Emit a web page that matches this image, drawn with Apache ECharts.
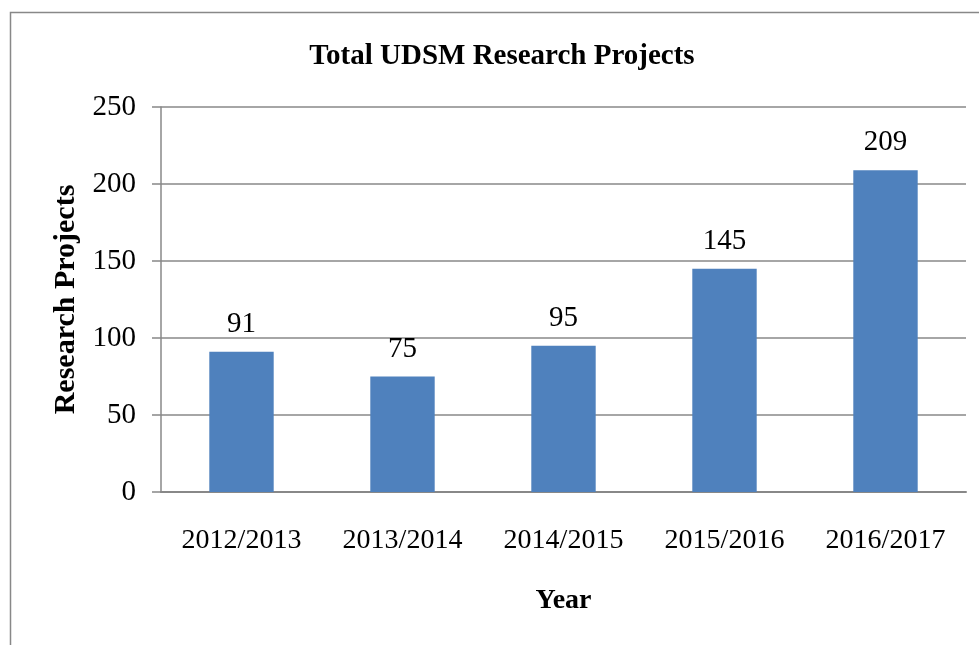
<!DOCTYPE html>
<html>
<head>
<meta charset="utf-8">
<title>Total UDSM Research Projects</title>
<script src="https://cdn.jsdelivr.net/npm/echarts@6/dist/echarts.min.js"></script>
<style>
  html, body { margin: 0; padding: 0; background: #fff; }
  #chart { width: 979px; height: 645px; }
</style>
</head>
<body>
<div id="chart"></div>
<script>
// data
const years = ['2012/2013', '2013/2014', '2014/2015', '2015/2016', '2016/2017']
const projects = [91, 75, 95, 145, 209]

const serif = '"Liberation Serif", "Times New Roman", serif'
const gray = '#888888'

const chart = echarts.init(document.getElementById('chart'))
chart.setOption({
  animation: false,
  title: {
    text: 'Total UDSM Research Projects',
    left: 497,
    top: 37,
    textAlign: 'center',
    textStyle: { fontFamily: serif, fontWeight: 'bold', fontSize: 29, color: '#000' }
  },
  graphic: [{
    type: 'rect',
    shape: { x: 10.5, y: 12.5, width: 1000, height: 700 },
    style: { fill: 'none', stroke: gray, lineWidth: 1.5 },
    silent: true
  }],
  grid: { left: 161, right: 13, top: 107, bottom: 153 },
  xAxis: {
    type: 'category',
    data: years,
    name: 'Year',
    nameLocation: 'middle',
    nameGap: 95,
    nameTextStyle: { fontFamily: serif, fontWeight: 'bold', fontSize: 28, color: '#000' },
    axisLine: { lineStyle: { color: gray, width: 2 } },
    axisTick: { show: false },
    axisLabel: { interval: 0, fontFamily: serif, fontSize: 28, color: '#000', margin: 35 }
  },
  yAxis: {
    type: 'value',
    min: 0,
    max: 250,
    interval: 50,
    name: 'Research Projects',
    nameLocation: 'middle',
    nameGap: 79,
    nameTextStyle: { fontFamily: serif, fontWeight: 'bold', fontSize: 30, color: '#000' },
    axisLine: { show: true, lineStyle: { color: gray, width: 1.5 } },
    axisTick: { show: true, length: 9, lineStyle: { color: gray, width: 1.5 } },
    axisLabel: { fontFamily: serif, fontSize: 29, color: '#000', margin: 25 },
    splitLine: { lineStyle: { color: gray, width: 1.5 } }
  },
  series: [{
    type: 'bar',
    data: projects,
    barWidth: '40%',
    itemStyle: { color: '#4f81bd' },
    label: {
      show: true,
      position: 'top',
      distance: 13,
      fontFamily: serif,
      fontSize: 29,
      color: '#000'
    }
  }]
})
</script>
</body>
</html>
